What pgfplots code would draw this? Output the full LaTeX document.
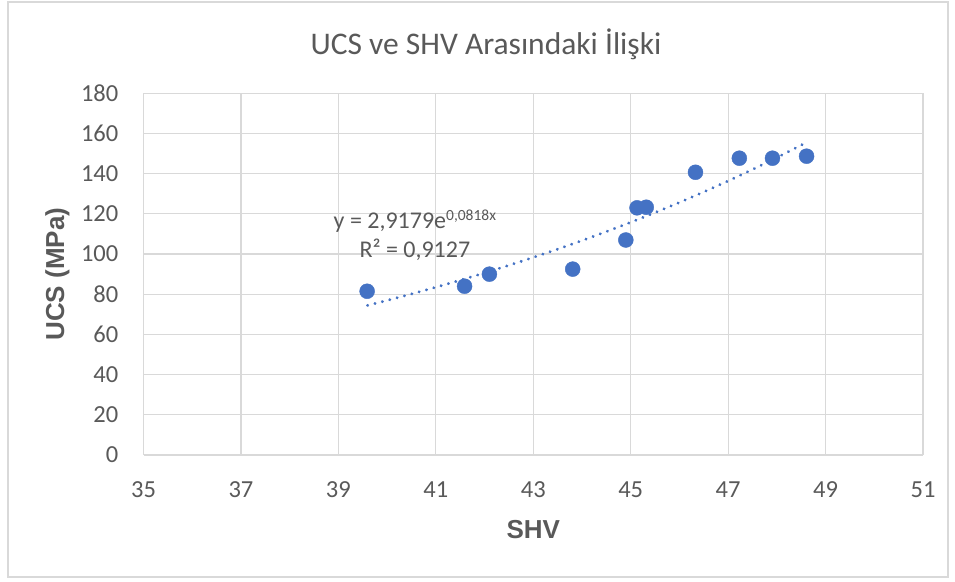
\documentclass[border=0pt]{standalone}
\usepackage{fontspec}
\setmainfont{Carlito}
\newfontfamily\arialb{Liberation Sans}
\usepackage{pgfplots}
\pgfplotsset{compat=1.18}
\definecolor{txtgray}{HTML}{595959}
\definecolor{gridgray}{HTML}{D9D9D9}
\definecolor{axisgray}{HTML}{BFBFBF}
\definecolor{xlblue}{HTML}{4472C4}
\begin{document}
\begin{tikzpicture}
\begin{axis}[
  at={(143.5pt,126pt)}, anchor=south west,
  scale only axis, width=779.5pt, height=361.7pt,
  xmin=35, xmax=51, ymin=0, ymax=180,
  xtick={35,37,...,51}, ytick={0,20,...,180},
  grid=major,
  major grid style={color=gridgray, line width=1.2pt},
  axis line style={draw=none},
  major tick length=0pt,
  extra y ticks={0}, extra y tick labels={},
  extra y tick style={grid style={color=axisgray, line width=1.2pt}},
  /pgf/number format/assume math mode=true,
  tick label style={font=\fontsize{24.5}{24.5}\selectfont, text=txtgray, inner sep=0pt},
  xticklabel style={anchor=center, yshift=-35pt},
  yticklabel style={anchor=east, xshift=-25pt},
  xlabel={SHV}, ylabel={UCS (MPa)},
  label style={font=\arialb\bfseries\fontsize{26}{26}\selectfont, text=txtgray},
  xlabel style={at={(axis description cs:0.5,-0.2074)}, anchor=center},
  ylabel style={at={(axis description cs:-0.1103,0.5)}, anchor=center, rotate=0},
  clip=false,
]
\addplot[only marks, mark=*, mark size=7.5pt, mark options={fill=xlblue, draw=xlblue}]
  coordinates {
  (39.59,81.5) (41.59,84) (42.1,90) (43.81,92.5) (44.9,107)
  (45.13,123) (45.32,123.3) (46.33,140.7) (47.23,147.7) (47.91,147.7) (48.61,148.7)
  };
\addplot[color=xlblue, line width=3.2pt, line cap=round, dash pattern=on 0.01pt off 7.6pt, no marks]
  coordinates {
  (39.6,74.45) (40,76.93) (40.5,80.14) (41,83.48) (41.5,86.97) (42,90.60)
  (42.5,94.38) (43,98.32) (43.5,102.43) (44,106.70) (44.5,111.16) (45,115.80)
  (45.5,120.64) (46,125.67) (46.5,130.91) (47,136.38) (47.5,142.08) (48,148.01) (48.6,155.45)
  };
\node[anchor=base, text=txtgray, font=\fontsize{24}{24}\selectfont, inner sep=0pt]
  at (axis cs:40.57,112.5) {y = 2,9179e\raisebox{8pt}{\fontsize{15.5}{15.5}\selectfont 0,0818x}};
\node[anchor=base, text=txtgray, font=\fontsize{24}{24}\selectfont, inner sep=0pt]
  at (axis cs:40.57,98.2) {R² = 0,9127};
\end{axis}
\node[anchor=base, text=txtgray, font=\fontsize{31.5}{31.5}\selectfont, inner sep=0pt]
  at (486pt,526pt) {UCS ve SHV Arasındaki İlişki};
\draw[color=gridgray, line width=1.3pt] (8pt,4pt) rectangle (948pt,579pt);
\pgfresetboundingbox
\path (0,0) rectangle (955pt,581pt);
\end{tikzpicture}
\end{document}
